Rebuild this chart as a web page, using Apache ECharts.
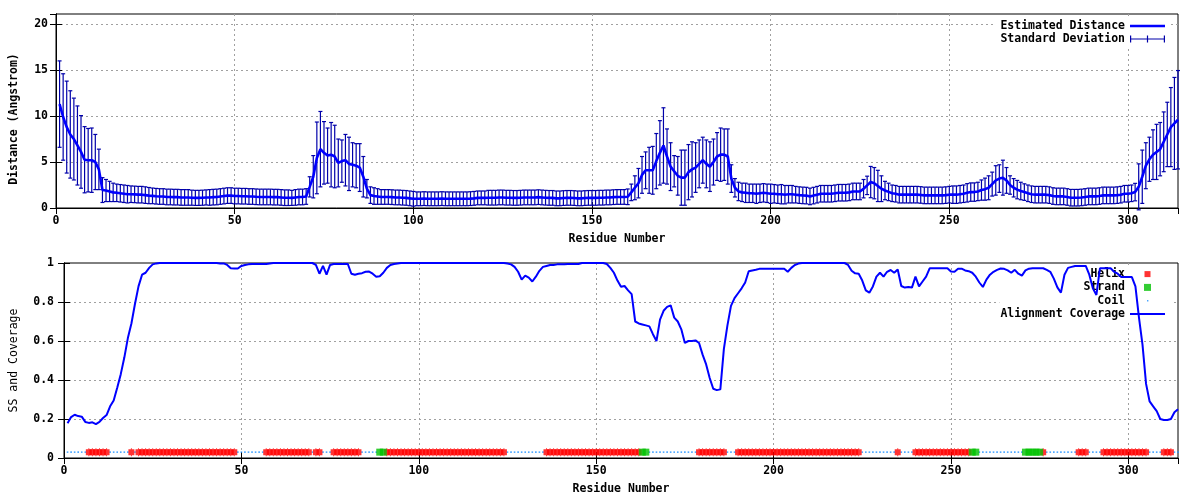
<!DOCTYPE html>
<html><head><meta charset="utf-8">
<script src="https://cdn.jsdelivr.net/npm/echarts@6/dist/echarts.min.js"></script>
<style>html,body{margin:0;padding:0;background:#fff}#c{width:1200px;height:500px}</style>
</head><body><div id="c"></div>
<script>
// ---- data (residues 1..314) ----
const distance = [
11.3,9.9,8.8,8.0,7.5,6.8,6.1,5.25,5.2,5.2,
5.0,4.2,1.95,1.9,1.8,1.7,1.65,1.6,1.55,1.5,
1.5,1.48,1.45,1.45,1.4,1.35,1.32,1.28,1.25,1.25,
1.2,1.2,1.18,1.18,1.15,1.15,1.15,1.12,1.1,1.1,
1.12,1.15,1.15,1.18,1.2,1.25,1.3,1.35,1.35,1.3,
1.3,1.28,1.28,1.25,1.25,1.22,1.2,1.2,1.2,1.2,
1.18,1.18,1.15,1.12,1.12,1.1,1.15,1.2,1.2,1.25,
2.3,3.4,5.45,6.4,6.0,5.7,5.8,5.6,4.9,5.1,
5.2,4.8,4.7,4.6,4.4,3.4,2.1,1.4,1.3,1.25,
1.2,1.2,1.2,1.18,1.15,1.15,1.12,1.1,1.05,1.0,
1.0,1.0,1.02,1.0,1.0,1.0,1.0,1.02,1.0,1.0,
1.0,1.0,1.0,1.0,1.0,1.02,1.05,1.1,1.1,1.1,
1.12,1.12,1.12,1.15,1.15,1.12,1.12,1.1,1.1,1.12,
1.15,1.15,1.15,1.15,1.18,1.15,1.12,1.1,1.1,1.05,
1.05,1.08,1.1,1.1,1.08,1.05,1.05,1.08,1.1,1.1,
1.1,1.12,1.12,1.15,1.15,1.18,1.2,1.2,1.2,1.22,
1.7,2.2,2.7,3.6,4.1,4.1,4.1,5.1,6.0,6.8,
5.6,4.5,4.0,3.5,3.3,3.3,3.9,4.2,4.4,4.8,
5.2,4.8,4.5,5.0,5.6,5.8,5.8,5.6,3.2,2.2,
1.8,1.7,1.65,1.6,1.6,1.55,1.6,1.65,1.6,1.55,
1.55,1.5,1.5,1.45,1.5,1.5,1.45,1.4,1.37,1.35,
1.26,1.35,1.45,1.55,1.55,1.55,1.55,1.6,1.66,1.66,
1.66,1.7,1.8,1.8,1.8,2.1,2.46,2.82,2.7,2.4,
2.1,1.9,1.75,1.6,1.55,1.45,1.45,1.45,1.45,1.45,
1.45,1.42,1.37,1.37,1.37,1.37,1.37,1.37,1.4,1.45,
1.45,1.45,1.5,1.55,1.65,1.73,1.73,1.8,1.95,2.05,
2.2,2.6,3.0,3.2,3.3,3.0,2.5,2.2,2.0,1.85,
1.73,1.6,1.5,1.45,1.45,1.45,1.45,1.4,1.3,1.26,
1.26,1.26,1.2,1.12,1.12,1.12,1.15,1.2,1.26,1.26,
1.26,1.3,1.37,1.37,1.37,1.37,1.4,1.45,1.55,1.55,
1.6,1.73,2.3,3.4,4.6,5.3,5.8,6.1,6.4,7.2,
8.0,8.8,9.2,9.6
];
const stdDev = [
4.7,4.7,5.0,4.75,4.45,4.3,3.95,3.6,3.45,3.5,
3.0,2.2,1.35,1.2,1.1,1.0,0.95,0.95,0.95,0.95,
0.9,0.9,0.9,0.9,0.9,0.88,0.85,0.85,0.85,0.85,
0.85,0.85,0.85,0.85,0.85,0.85,0.85,0.82,0.82,0.82,
0.82,0.82,0.85,0.85,0.85,0.85,0.85,0.85,0.85,0.85,
0.85,0.85,0.85,0.85,0.85,0.85,0.85,0.85,0.85,0.85,
0.85,0.85,0.85,0.85,0.85,0.82,0.85,0.85,0.85,0.85,
1.1,2.3,3.9,4.1,3.4,3.0,3.5,3.4,2.6,2.3,
2.8,2.9,2.4,2.4,2.6,2.2,1.0,0.9,0.9,0.85,
0.8,0.8,0.8,0.8,0.8,0.8,0.8,0.8,0.8,0.8,
0.75,0.75,0.75,0.75,0.75,0.75,0.75,0.75,0.75,0.75,
0.75,0.75,0.75,0.75,0.75,0.75,0.75,0.75,0.75,0.75,
0.8,0.8,0.8,0.8,0.8,0.8,0.8,0.8,0.8,0.8,
0.8,0.8,0.8,0.8,0.8,0.8,0.8,0.8,0.8,0.8,
0.8,0.8,0.8,0.8,0.8,0.8,0.8,0.8,0.8,0.8,
0.8,0.8,0.8,0.8,0.8,0.8,0.8,0.8,0.8,0.85,
0.9,1.3,1.6,2.0,2.0,2.5,2.6,3.0,3.5,4.1,
3.0,2.6,1.7,2.1,3.0,3.0,3.0,3.0,2.7,2.6,
2.5,2.6,2.7,2.5,2.6,2.9,2.8,3.0,1.5,1.0,
1.0,1.0,1.05,1.0,1.0,1.05,1.0,1.0,1.0,1.05,
1.0,1.0,1.05,1.0,0.95,0.95,0.9,0.9,0.9,0.9,
0.9,0.9,0.9,0.9,0.9,0.9,0.9,0.9,0.9,0.9,
0.9,0.9,0.9,0.9,0.9,1.0,1.0,1.7,1.7,1.7,
1.4,1.0,0.95,0.9,0.9,0.9,0.9,0.9,0.9,0.9,
0.9,0.9,0.9,0.9,0.9,0.9,0.9,0.9,0.9,0.9,
0.95,0.95,0.95,0.95,1.0,1.0,1.0,1.0,1.1,1.2,
1.3,1.3,1.6,1.5,1.9,1.4,1.0,1.0,1.0,0.95,
0.9,0.9,0.9,0.9,0.9,0.9,0.9,0.9,0.9,0.9,
0.9,0.9,0.9,0.9,0.9,0.9,0.9,0.9,0.9,0.9,
0.9,0.9,0.9,0.9,0.9,0.9,0.9,0.9,0.9,0.9,
0.9,0.95,2.5,2.9,2.5,2.4,2.7,3.0,2.9,3.25,
3.5,4.3,5.0,5.35
];
const coverage = [
0.178,0.21,0.222,0.215,0.212,0.185,0.18,0.183,0.174,0.185,
0.205,0.22,0.265,0.295,0.36,0.43,0.515,0.615,0.69,0.79,
0.88,0.94,0.95,0.975,0.993,0.998,1,1,1,1,
1,1,1,1,1,1,1,1,1,1,
1,1,1,0.998,0.998,0.99,0.973,0.972,0.972,0.985,
0.99,0.993,0.995,0.995,0.995,0.995,0.995,0.998,1,1,
1,1,1,1,1,1,1,1,1,1,
0.99,0.945,0.985,0.94,0.99,0.995,0.995,0.995,0.995,0.995,
0.945,0.94,0.945,0.948,0.955,0.956,0.945,0.93,0.932,0.95,
0.975,0.99,0.995,0.998,1,1,1,1,1,1,
1,1,1,1,1,1,1,1,1,1,
1,1,1,1,1,1,1,1,1,1,
1,1,1,1,0.997,0.993,0.98,0.955,0.915,0.935,
0.925,0.905,0.93,0.96,0.98,0.985,0.99,0.99,0.993,0.993,
0.993,0.995,0.995,0.995,0.995,1,1,1,1,1,
1,1,0.995,0.975,0.95,0.91,0.878,0.882,0.86,0.84,
0.7,0.69,0.685,0.68,0.675,0.635,0.6,0.71,0.755,0.775,
0.783,0.72,0.7,0.66,0.59,0.6,0.6,0.603,0.59,0.53,
0.48,0.41,0.355,0.348,0.352,0.56,0.68,0.78,0.82,0.845,
0.87,0.9,0.958,0.962,0.965,0.97,0.971,0.971,0.971,0.971,
0.971,0.971,0.97,0.955,0.975,0.99,0.997,1,1,1,
1,1,1,1,1,1,1,1,1,1,
0.99,0.96,0.947,0.945,0.91,0.86,0.848,0.88,0.93,0.95,
0.93,0.955,0.964,0.95,0.967,0.882,0.874,0.877,0.874,0.93,
0.88,0.905,0.93,0.973,0.973,0.973,0.973,0.973,0.973,0.956,
0.955,0.97,0.971,0.962,0.958,0.95,0.93,0.9,0.877,0.915,
0.94,0.955,0.965,0.972,0.97,0.962,0.95,0.965,0.945,0.935,
0.962,0.971,0.973,0.973,0.973,0.973,0.965,0.955,0.92,0.875,
0.848,0.94,0.975,0.98,0.985,0.985,0.985,0.985,0.94,0.87,
0.836,0.973,0.973,0.973,0.973,0.955,0.945,0.928,0.928,0.928,
0.928,0.88,0.72,0.58,0.38,0.29,0.265,0.24,0.2,0.195,
0.195,0.2,0.235,0.25
];
// secondary structure segments [first residue, last residue]
const helixRanges = [[7,12],[19,19],[21,48],[57,69],[71,72],[76,83],[91,124],[136,162],[179,186],[190,224],[235,235],[240,255],[276,276],[286,288],[293,305],[310,312]];
const strandRanges = [[89,90],[163,164],[256,257],[271,275]];
const ssLevel = 0.03;
const residueMax = 314;
const distTicks = {min: 0, max: 21.1, step: 5, showMax: false};
const covTicks = {min: 0, max: 1, step: 0.2, showMax: true};
const resTickStep = 50;

// ---- build series data ----
const residues = distance.map((_, i) => i + 1);
const inRanges = (r, rs) => rs.some(([a, b]) => r >= a && r <= b);
const helixPts = [], strandPts = [], coilPts = [];
residues.forEach(r => {
  const isH = inRanges(r, helixRanges), isE = inRanges(r, strandRanges);
  if (isH) helixPts.push([r, ssLevel]);
  if (isE) strandPts.push([r, ssLevel]);
  if (!isH && !isE) coilPts.push([r, ssLevel]);
});

const FONT = "'DejaVu Sans Mono', 'Liberation Mono', monospace";
const txt = {color: '#000', fontFamily: FONT, fontSize: 11.5, fontWeight: 'bold'};
const gridLine = {show: true, showMinLine: false, showMaxLine: false, lineStyle: {color: '#a0a0a0', width: 1, type: [2, 3]}};
const tick = {show: true, inside: true, length: 6, lineStyle: {color: '#000'}};
const axLine = {show: true, lineStyle: {color: '#000', width: 1}};

function xAxes(gi) {
  return [
    {gridIndex: gi, type: 'value', min: 0, max: residueMax, interval: resTickStep, position: 'bottom',
     axisLine: axLine, axisTick: tick, splitLine: gridLine,
     axisLabel: Object.assign({margin: 7, showMaxLabel: false}, txt),
     name: 'Residue Number', nameLocation: 'middle', nameGap: 25, nameTextStyle: txt},
    {gridIndex: gi, type: 'value', min: 0, max: residueMax, interval: resTickStep, position: 'top',
     axisLine: axLine, axisTick: tick, splitLine: {show: false}, axisLabel: {show: false}}
  ];
}
function yAxes(gi, t, margin, name, nameGap, nameStyle) {
  return [
    {gridIndex: gi, type: 'value', min: t.min, max: t.max, interval: t.step, position: 'left',
     axisLine: axLine, axisTick: tick, splitLine: gridLine,
     axisLabel: Object.assign({margin: margin, showMaxLabel: t.showMax, showMinLabel: true}, txt),
     name: name, nameLocation: 'middle', nameRotate: 90, nameGap: nameGap, nameTextStyle: nameStyle},
    {gridIndex: gi, type: 'value', min: t.min, max: t.max, interval: t.step, position: 'right',
     axisLine: axLine, axisTick: tick, splitLine: {show: false}, axisLabel: {show: false}}
  ];
}

const lineIcon = 'path://M0,0M35,10M0,3.7h35v2.6h-35z';
const thinLineIcon = 'path://M0,0M35,10M0,4h35v2h-35z';
const errIcon = 'path://M0,0M35,10M0,4.4h35v1.2h-35z M0,1.5h1.2v7h-1.2z M16.9,1.5h1.2v7h-1.2z M33.8,1.5h1.2v7h-1.2z';
const helixIcon = 'path://M0,0M35,10M14.5,2h6v6h-6z';
const strandIcon = 'path://M0,0M35,10M14,1.5h7v7h-7z';
const coilIcon = 'path://M0,0M35,10M17,4.3h1.4v1.4h-1.4z';

const chart = echarts.init(document.getElementById('c'), null, {renderer: 'canvas'});
chart.setOption({
  animation: false,
  backgroundColor: '#fff',
  grid: [
    {left: 51, right: 22, top: 14, height: 194, show: true, borderColor: '#000', borderWidth: 1, backgroundColor: 'transparent'},
    {left: 59, right: 22, top: 263, height: 195, show: true, borderColor: '#000', borderWidth: 1, backgroundColor: 'transparent'}
  ],
  xAxis: [...xAxes(0), ...xAxes(1)],
  yAxis: [
    ...yAxes(0, distTicks, 8, 'Distance (Angstrom)', 36, Object.assign({}, txt, {padding: [0, 16, 0, 0]})),
    ...yAxes(1, covTicks, 10, 'SS and Coverage', 44, Object.assign({}, txt, {fontWeight: 'normal'}))
  ],
  legend: [
    {orient: 'vertical', right: 29, top: 17.5, align: 'right', itemWidth: 35, itemHeight: 10, itemGap: 0,
     padding: [2, 6, 2, 6], backgroundColor: '#fff', z: 1, selectedMode: false,
     textStyle: Object.assign({lineHeight: 13}, txt),
     data: [{name: 'Estimated Distance', icon: lineIcon, itemStyle: {color: '#0000ff'}},
            {name: 'Standard Deviation', icon: errIcon, itemStyle: {color: '#0000aa'}}]},
    {orient: 'vertical', right: 29, top: 265.6, align: 'right', itemWidth: 35, itemHeight: 10, itemGap: 0.3,
     padding: [2, 6, 2, 1], backgroundColor: '#fff', z: 1, selectedMode: false,
     textStyle: Object.assign({lineHeight: 13}, txt),
     data: [{name: 'Helix', icon: helixIcon, itemStyle: {color: '#ff0000'}},
            {name: 'Strand', icon: strandIcon, itemStyle: {color: '#00c000'}},
            {name: 'Coil', icon: coilIcon, itemStyle: {color: '#1e90ff'}},
            {name: 'Alignment Coverage', icon: thinLineIcon, itemStyle: {color: '#0000ff'}}]}
  ],
  series: [
    {name: 'Standard Deviation', type: 'custom', xAxisIndex: 0, yAxisIndex: 0, z: 2, clip: false,
     itemStyle: {color: '#0000aa'},
     data: residues.map((r, i) => [r, distance[i] - stdDev[i], distance[i] + stdDev[i]]),
     encode: {x: 0, y: [1, 2]},
     renderItem: function (params, api) {
       const x = api.value(0);
       const top = api.coord([x, api.value(2)]);
       const bot = api.coord([x, api.value(1)]);
       const w = 2;
       const st = {stroke: '#0000aa', lineWidth: 1.2, fill: null};
       return {type: 'group', children: [
         {type: 'line', shape: {x1: top[0], y1: top[1], x2: bot[0], y2: bot[1]}, style: st},
         {type: 'line', shape: {x1: top[0] - w, y1: top[1], x2: top[0] + w, y2: top[1]}, style: st},
         {type: 'line', shape: {x1: bot[0] - w, y1: bot[1], x2: bot[0] + w, y2: bot[1]}, style: st}
       ]};
     }},
    {name: 'Estimated Distance', type: 'line', xAxisIndex: 0, yAxisIndex: 0, z: 3,
     symbol: 'none', color: '#0000ff', lineStyle: {color: '#0000ff', width: 2.6},
     data: residues.map((r, i) => [r, distance[i]])},
    {name: 'Coil', type: 'scatter', xAxisIndex: 2, yAxisIndex: 2, z: 2,
     symbol: 'rect', symbolSize: 1.6, itemStyle: {color: '#1e90ff'}, data: coilPts},
    {name: 'Helix', type: 'scatter', xAxisIndex: 2, yAxisIndex: 2, z: 2,
     symbol: 'path://M0,1h6v6h-6z M2.5,0h1v8h-1z', symbolSize: [6, 8], symbolKeepAspect: false,
     itemStyle: {color: '#ff0000'}, data: helixPts},
    {name: 'Strand', type: 'scatter', xAxisIndex: 2, yAxisIndex: 2, z: 2,
     symbol: 'rect', symbolSize: [7, 7], itemStyle: {color: '#00c000'}, data: strandPts},
    {name: 'Alignment Coverage', type: 'line', xAxisIndex: 2, yAxisIndex: 2, z: 3,
     symbol: 'none', color: '#0000ff', lineStyle: {color: '#0000ff', width: 2},
     data: residues.map((r, i) => [r, coverage[i]])}
  ]
});
</script>
</body></html>
